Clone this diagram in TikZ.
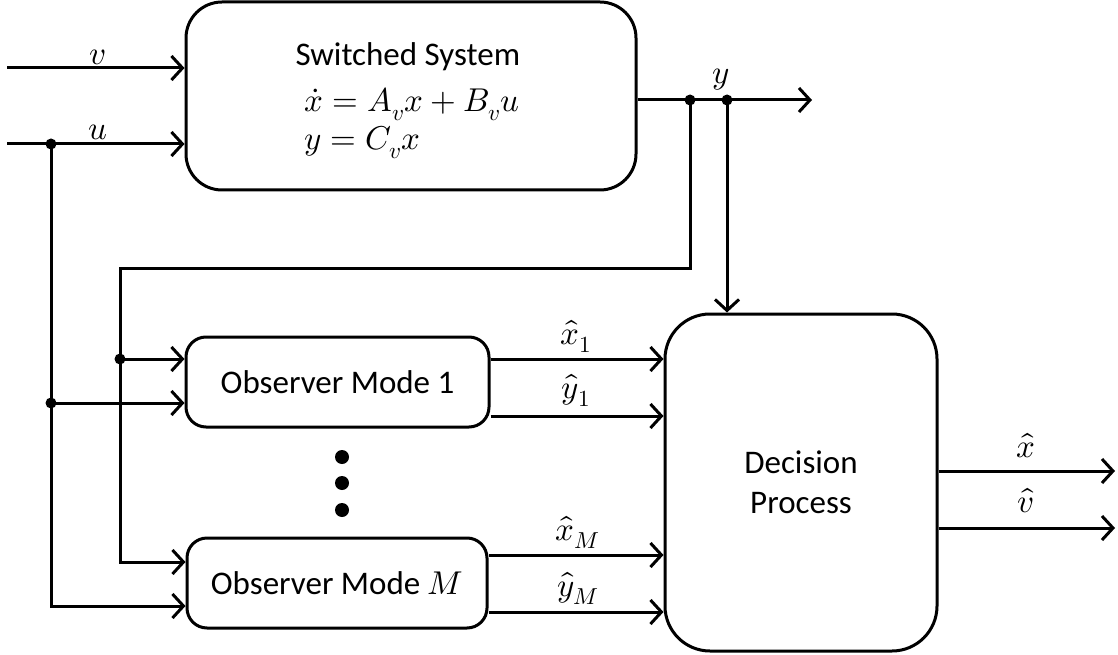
\documentclass[tikz,border=0pt]{standalone}
\usepackage{unicode-math}
\setmainfont{Carlito}
\setmathfont{Latin Modern Math}
\usetikzlibrary{arrows.meta,calc}
\begin{document}
\begin{tikzpicture}[x=1pt,y=-1pt,
  line width=3pt,
  every node/.style={font=\fontsize{33}{40}\selectfont},
  arr/.style={-{Straight Barb[length=11pt,width=24pt,line width=3pt]}},
  block/.style={draw,line width=3pt,rounded corners=#1,inner sep=0pt},
  jdot/.style={circle,fill,inner sep=0pt,minimum size=11pt},
  bigdot/.style={circle,fill,inner sep=0pt,minimum size=14pt},
  lbl/.style={inner sep=0pt}]
\useasboundingbox (0,0) rectangle (1118,655);

% blocks
\node[block=36pt,minimum width=450pt,minimum height=188pt] (sys) at (411,96) {};
\node[block=20pt,minimum width=303pt,minimum height=90pt] (obs1) at (337.5,382) {Observer Mode 1};
\node[block=20pt,minimum width=300pt,minimum height=90pt] (obsM) at (337,583) {Observer Mode $M$};
\node[block=45pt,minimum width=272pt,minimum height=337pt,align=center] (dec) at (801,482.5) {Decision\\Process};

% text inside the switched system block
\node[lbl,anchor=west] (title) at (294,57) {Switched System};
\node[lbl,anchor=base west] (eq1) at (303,112) {$\dot{x} = A_v x + B_v u$};
\node[lbl,anchor=base west] (eq2) at (303,150) {$y = C_v x$};

% free ends and branch points
\coordinate (vin) at (7,68);
\coordinate (uin) at (7,144);
\coordinate (yout) at (812,100);
\coordinate (xout) at (1115,471);
\coordinate (vout) at (1115,528);
\node[jdot] (uj) at (51,144) {};
\node[jdot] (yj1) at (690,100) {};
\node[jdot] (yj2) at (727,100) {};
\node[jdot] (fbj) at (120,359) {};
\node[jdot] (uj2) at (51,403) {};
\coordinate (fb1) at (690,268);
\coordinate (fb2) at (120,268);

% inputs of the switched system
\draw[arr] (vin) -- (vin -| sys.west);
\draw[arr] (uin) -- (uin -| sys.west);
\draw[arr] (sys.east |- yout) -- (yout);

% output feedback to the observers
\draw[arr] (yj1.center) -- (fb1) -- (fb2) -- (120,562) -- (obsM.west |- 0,562);
\draw[arr] (fbj.center) -- (obs1.west |- fbj);
\draw[arr] (yj2.center) -- (yj2 |- dec.north);

% input u to the observers
\draw[arr] (uj.center) -- (51,606) -- (obsM.west |- 0,606);
\draw[arr] (uj2.center) -- (obs1.west |- uj2);

% observer estimates
\draw[arr] (obs1.east |- 0,359) -- (dec.west |- 0,359);
\draw[arr] (obs1.east |- 0,416) -- (dec.west |- 0,416);
\draw[arr] (obsM.east |- 0,555) -- (dec.west |- 0,555);
\draw[arr] (obsM.east |- 0,612) -- (dec.west |- 0,612);

% decision outputs
\draw[arr] (dec.east |- xout) -- (xout);
\draw[arr] (dec.east |- vout) -- (vout);

% ellipsis between the observers
\node[bigdot] (e1) at (342,457) {};
\node[bigdot] (e2) at (342,483) {};
\node[bigdot] (e3) at (342,510) {};

% signal labels
\node[lbl] (lv) at (98,57) {$v$};
\node[lbl] (lu) at (98,132) {$u$};
\node[lbl] (ly) at (721,80) {$y$};
\node[lbl] (lx1) at (576,336) {$\hat{x}_1$};
\node[lbl] (ly1) at (576,390) {$\hat{y}_1$};
\node[lbl] (lxM) at (578,532) {$\hat{x}_M$};
\node[lbl] (lyM) at (578,588) {$\hat{y}_M$};
\node[lbl] (lx) at (1026,446) {$\hat{x}$};
\node[lbl] (lvh) at (1026,501) {$\hat{v}$};
\end{tikzpicture}
\end{document}
